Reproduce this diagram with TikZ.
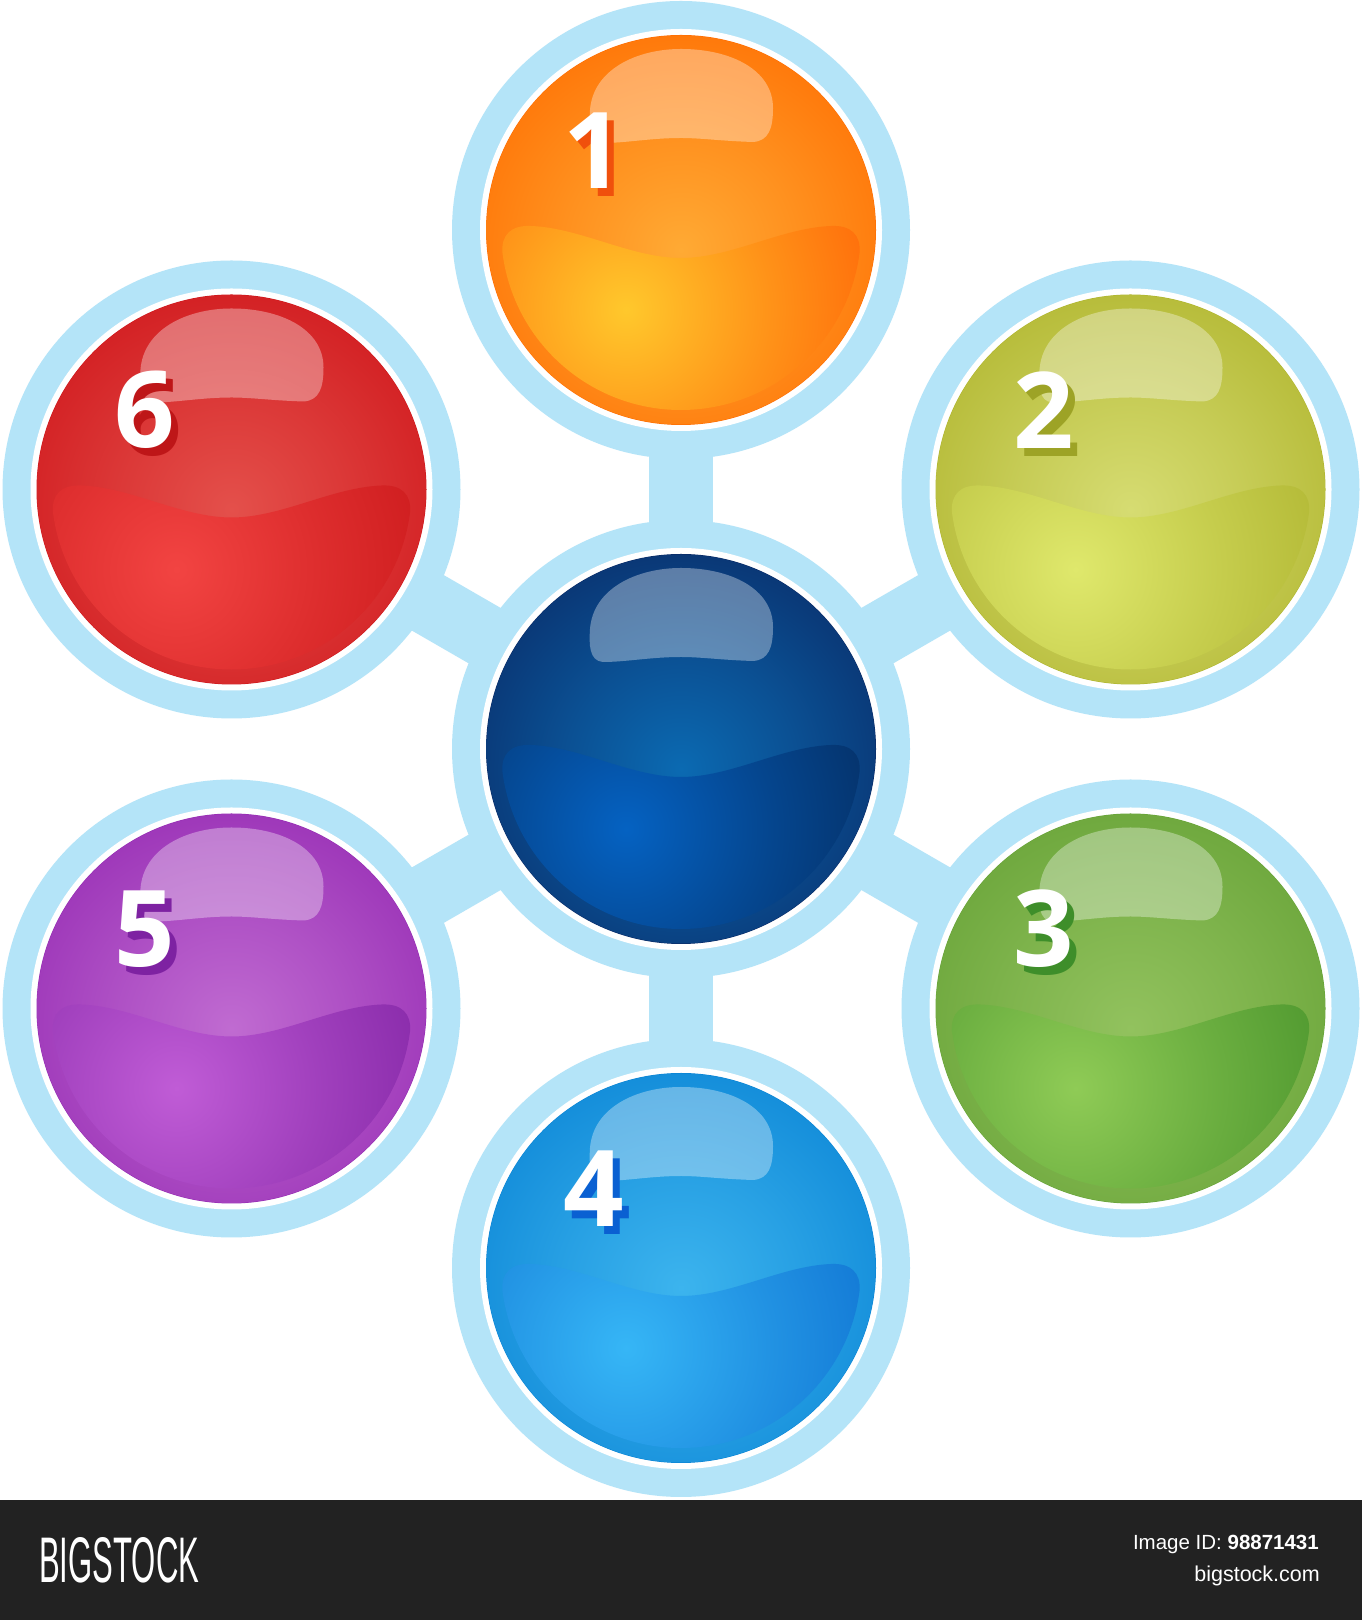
\documentclass[tikz,border=0pt]{standalone}
\usepackage{fontspec}
\setmainfont{Liberation Sans}
\newfontfamily\numfont{Open Sans}
\usepackage{graphicx}

\definecolor{ringblue}{HTML}{B4E4F8}
\definecolor{barblack}{HTML}{222222}

% radial shadings centred in their box; the shaded circle (r=260) is placed at the glow point
\newcommand\mkshadings[5]{%
  \definecolor{#1bi}{HTML}{#2}\definecolor{#1bo}{HTML}{#3}%
  \definecolor{#1ni}{HTML}{#4}\definecolor{#1no}{HTML}{#5}%
  \pgfdeclareradialshading{#1base}{\pgfpoint{0bp}{0bp}}{color(0bp)=(#1bi); color(11bp)=(#1bi!60!#1bo); color(26bp)=(#1bo); color(50bp)=(#1bo)}%
  \pgfdeclareradialshading{#1band}{\pgfpoint{0bp}{0bp}}{color(0bp)=(#1ni); color(14bp)=(#1ni!55!#1no); color(33bp)=(#1no); color(50bp)=(#1no)}%
}
\mkshadings{navy}{0B6AB2}{0A2A66}{0562C2}{05234F}
\mkshadings{orng}{FFAA34}{FF6C00}{FFC82C}{FF5000}
\mkshadings{lime}{D6DC72}{AFB42C}{DFE86C}{A6AB26}
\mkshadings{grn}{92C25E}{66A236}{8FCB56}{3D8A24}
\mkshadings{blu}{3CB4EE}{0A84D5}{36B6F6}{0866CB}
\mkshadings{pur}{C06BD1}{952AB3}{C05CD6}{781C9D}
\mkshadings{red}{E4504B}{CF151A}{F24442}{C41114}

\definecolor{orngsh}{HTML}{F0500C}
\definecolor{limesh}{HTML}{9DA326}
\definecolor{grnsh}{HTML}{3E8E2A}
\definecolor{blush}{HTML}{0A60D2}
\definecolor{pursh}{HTML}{7E22A2}
\definecolor{redsh}{HTML}{BE1618}

\tikzset{
  connbar/.style={ringblue, line width=64pt},
  bandpath/.style={insert path={(-178.54,-22.87) arc[start angle=187.3, end angle=352.7, radius=180]
     .. controls (180,-5) and (170,5) .. (150,4)
     .. controls (100,2) and (50,-28) .. (0,-28)
     .. controls (-50,-28) and (-100,2) .. (-150,4)
     .. controls (-170,5) and (-180,-5) .. (-178.54,-22.87) -- cycle}},
  hlpath/.style={insert path={(-78,87) .. controls (-92,88) and (-92,105) .. (-91,120)
     .. controls (-88,160) and (-45,181) .. (0,181)
     .. controls (50,181) and (92,160) .. (92,122)
     .. controls (92,102) and (88,89) .. (72,88)
     .. controls (40,89) and (20,92) .. (0,92)
     .. controls (-30,92) and (-55,87) .. (-78,87) -- cycle}},
  numtxt/.style={inner sep=0pt, font=\numfont\bfseries\fontsize{106}{106}\selectfont},
  bottomtxt/.style={inner sep=0pt, text=white}
}

\newcommand\glossy[2]{%
  \begin{scope}[shift={(#1)}]
    \draw[white, line width=7pt] (90:197.5) arc[start angle=90, end angle=450, radius=197.5];
    \fill[#2bo] (90:195) arc[start angle=90, end angle=450, radius=195] -- cycle;
    \begin{scope}
      \clip (90:194.5) arc[start angle=90, end angle=450, radius=194.5] -- cycle;
      \shade[shading=#2base] (0,-20) circle (260);
      \begin{scope}
        \clip[bandpath];
        \shade[shading=#2band] (-55,-80) circle (260);
      \end{scope}
    \end{scope}
    \fill[white, opacity=0.34, hlpath];
  \end{scope}}

\newcommand\numlabel[3]{%
  \begin{scope}[shift={(#1)}]
    \node[numtxt, text=#3] (#1ns) at (-80,71.5) {#2};
    \node[numtxt, text=white] (#1n) at (-87,79.5) {#2};
  \end{scope}}

\begin{document}
\begin{tikzpicture}[x=1pt, y=1pt]
  \useasboundingbox (0,0) rectangle (1362,1620);
  \fill[white] (0,0) rectangle (1362,1620);

  \coordinate (c0) at (681,871);
  \coordinate (c1) at (681,1390);
  \coordinate (c2) at (1130.5,1130.5);
  \coordinate (c3) at (1130.5,611.5);
  \coordinate (c4) at (681,352);
  \coordinate (c5) at (231.5,611.5);
  \coordinate (c6) at (231.5,1130.5);

  \foreach \i in {1,...,6} \draw[connbar] (c0) -- (c\i);
  \foreach \i in {0,...,6} \fill[ringblue] (c\i) circle (229);

  \glossy{c0}{navy}
  \glossy{c1}{orng}
  \glossy{c2}{lime}
  \glossy{c3}{grn}
  \glossy{c4}{blu}
  \glossy{c5}{pur}
  \glossy{c6}{red}

  \numlabel{c1}{1}{orngsh}
  \numlabel{c2}{2}{limesh}
  \numlabel{c3}{3}{grnsh}
  \numlabel{c4}{4}{blush}
  \numlabel{c5}{5}{pursh}
  \numlabel{c6}{6}{redsh}

  \fill[barblack] (0,0) rectangle (1362,120);
  \node[bottomtxt, anchor=south west] (logo) at (39,37) {\resizebox{160pt}{45pt}{BIGSTOCK}};
  \node[bottomtxt, anchor=base east, font=\fontsize{20.5}{24}\selectfont] (imgid) at (1319,70) {Image ID: \textbf{98871431}};
  \node[bottomtxt, anchor=base east, font=\fontsize{21.5}{24}\selectfont] (site) at (1320,38) {bigstock.com};
\end{tikzpicture}
\end{document}
